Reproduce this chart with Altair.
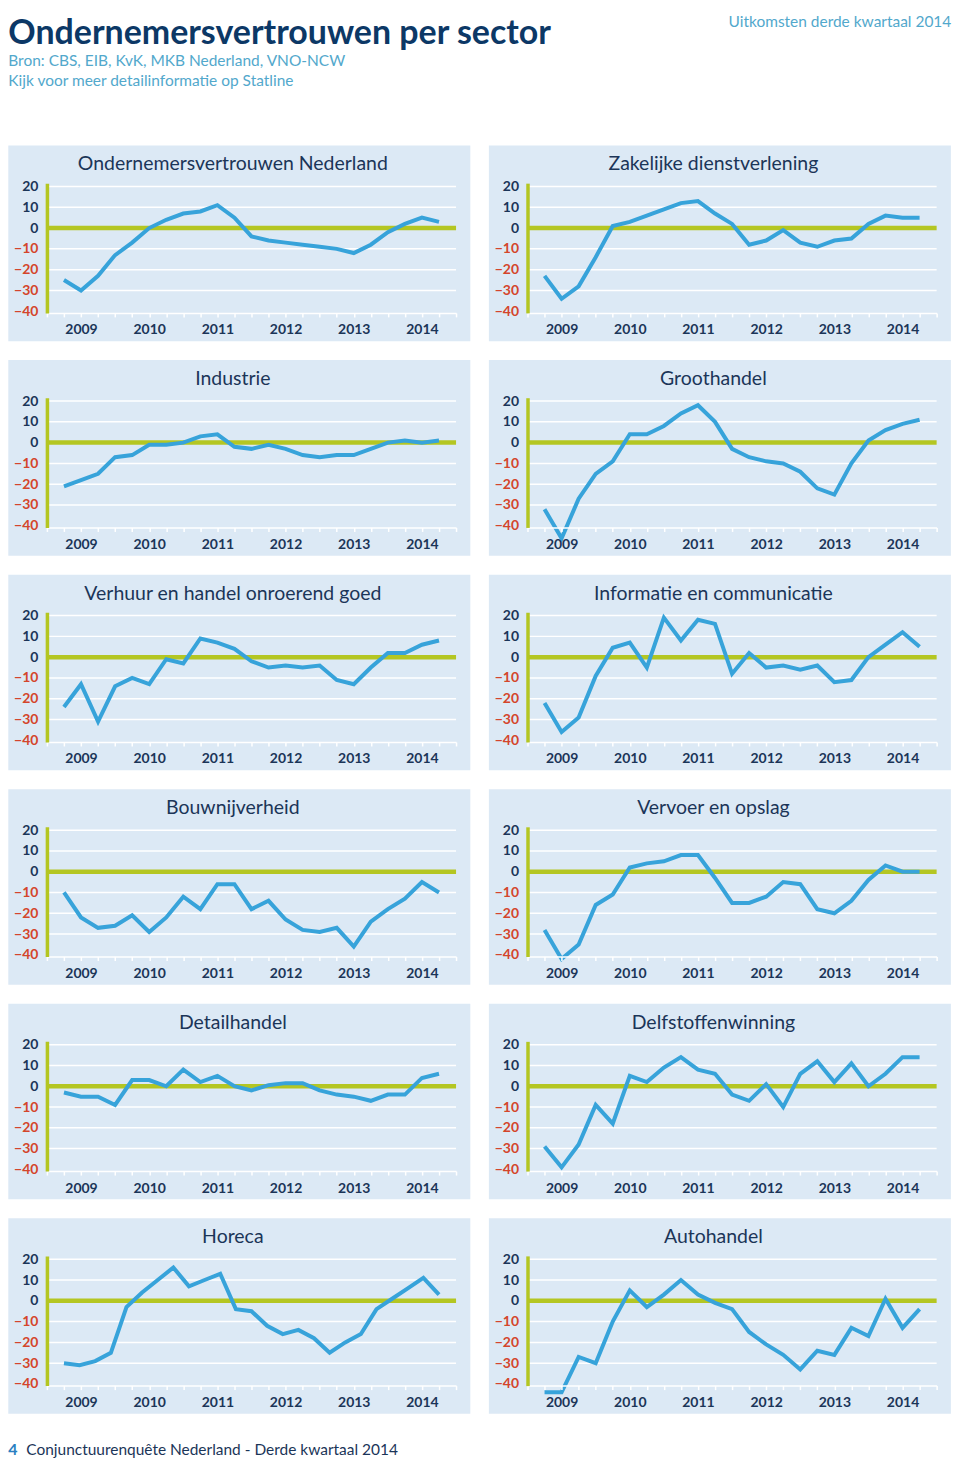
import altair as alt
import pandas as pd

# ---------------- text ----------------
MAIN_TITLE = "Ondernemersvertrouwen per sector"
SUB_LINE1 = "Bron: CBS, EIB, KvK, MKB Nederland, VNO-NCW"
SUB_LINE2 = "Kijk voor meer detailinformatie op Statline"
TOP_RIGHT = "Uitkomsten derde kwartaal 2014"
FOOT_NUM = "4"
FOOT_TEXT = "Conjunctuurenquête Nederland - Derde kwartaal 2014"

# ---------------- data ----------------
sectors = [
    "Ondernemersvertrouwen Nederland", "Zakelijke dienstverlening",
    "Industrie", "Groothandel",
    "Verhuur en handel onroerend goed", "Informatie en communicatie",
    "Bouwnijverheid", "Vervoer en opslag",
    "Detailhandel", "Delfstoffenwinning",
    "Horeca", "Autohandel",
]
nederland = [-25, -30, -23, -13, -7, 0, 4, 7, 8, 11, 5, -4, -6, -7, -8, -9, -10, -12, -8, -2, 2, 5, 3]
zakelijk = [-23, -34, -28, -14, 1, 3, 6, 9, 12, 13, 7, 2, -8, -6, -1, -7, -9, -6, -5, 2, 6, 5, 5]
industrie = [-21, -18, -15, -7, -6, -1, -1, 0, 3, 4, -2, -3, -1, -3, -6, -7, -6, -6, -3, 0, 1, 0, 1]
groothandel = [-32, -46, -27, -15, -9, 4, 4, 8, 14, 18, 10, -3, -7, -9, -10, -14, -22, -25, -10, 1, 6, 9, 11]
verhuur = [-24, -13, -31, -14, -10, -13, -1, -3, 9, 7, 4, -2, -5, -4, -5, -4, -11, -13, -5, 2, 2, 6, 8]
informatie = [-22, -36, -29, -9, 4.5, 7, -5, 19, 8, 18, 16, -8, 2, -5, -4, -6, -4, -12, -11, 0, 6, 12, 5]
bouw = [-10, -22, -27, -26, -21, -29, -22, -12, -18, -6, -6, -18, -14, -23, -28, -29, -27, -36, -24, -18, -13, -5, -10]
vervoer = [-28, -42, -35, -16, -11, 2, 4, 5, 8, 8, -3, -15, -15, -12, -5, -6, -18, -20, -14, -4, 3, 0, 0]
detail = [-3, -5, -5, -9, 3, 3, 0, 8, 2, 5, 0, -2, 0.5, 1.5, 1.5, -2, -4, -5, -7, -4, -4, 4, 6]
delf = [-29, -39, -28, -9, -18, 5, 2, 9, 14, 8, 6, -4, -7, 1, -10, 6, 12, 2, 11, 0, 6, 14, 14]
horeca = [-30, -31, -29, -25, -3, 4, 10, 16, 7, 10, 13, -4, -5, -12, -16, -14, -18, -25, -20, -16, -4, 1, 6, 11, 3]
auto = [-44, -44, -27, -30, -10, 5, -3, 3, 10, 3, -1, -4, -15, -21, -26, -33, -24, -26, -13, -17, 1, -13, -4]
series = [nederland, zakelijk, industrie, groothandel, verhuur, informatie,
          bouw, vervoer, detail, delf, horeca, auto]

year_labels = ["2009", "2010", "2011", "2012", "2013", "2014"]
year_pos = [1, 5, 9, 13, 17, 21]
y_ticks = [20, 10, 0, -10, -20, -30, -40]
grid_vals = [20, 10, -10, -20, -30]

# ---------------- style ----------------
BG = "#dce9f5"
NAVY = "#1b3558"
TITLE_NAVY = "#0c3866"
RED = "#d4452b"
BLUE = "#37a3da"
GREEN = "#b4c622"
TEAL = "#52a8cc"
FONT = "Lato"

PW, PH = 410, 130
XDOM = [-1, 23]
YDOM = [-40.8, 21.6]

one = pd.DataFrame({"k": [0]})
xscale = alt.Scale(domain=XDOM, nice=False, zero=False)
yscale = alt.Scale(domain=YDOM, nice=False, zero=False)

label_expr = "".join(f"datum.value == {p} ? '{y}' : " for p, y in zip(year_pos, year_labels)) + "''"

x_axis = alt.Axis(
    values=list(range(-1, 24)), labelExpr=label_expr, title=None, grid=False,
    domainColor="white", domainWidth=1.5, tickColor="white", tickWidth=1.5, tickSize=4,
    labelPadding=6, labelFont=FONT, labelFontSize=14, labelFontWeight="bold",
    labelColor=NAVY, labelOverlap=False, labelFlush=False, zindex=1,
)
y_axis = alt.Axis(
    values=y_ticks, title=None, grid=False, ticks=False,
    domainColor=GREEN, domainWidth=3.5, labelPadding=9,
    labelFont=FONT, labelFontSize=14, labelFontWeight="bold",
    labelColor={"condition": {"test": "datum.value < 0", "value": RED}, "value": NAVY},
    zindex=1,
)


def text_layer(txt, x, y, size, color, weight="normal", align="left"):
    return alt.Chart(pd.DataFrame({"t": [txt]})).mark_text(
        font=FONT, fontSize=size, fontWeight=weight, color=color,
        align=align, baseline="alphabetic"
    ).encode(text="t:N", x=alt.value(x), y=alt.value(y))


def panel(k):
    name = sectors[k]
    vals = series[k]
    n = len(vals)
    step = 22 / (n - 1)
    df = pd.DataFrame({"q": [i * step for i in range(n)], "v": vals})

    bg = alt.Chart(one).mark_rect(color=BG).encode(
        x=alt.value(-38.7), x2=alt.value(424.3), y=alt.value(-37.7), y2=alt.value(158.3)
    )
    grid = alt.Chart(pd.DataFrame({"g": grid_vals})).mark_rule(
        color="white", strokeWidth=1.5
    ).encode(y=alt.Y("g:Q", scale=yscale, axis=y_axis))
    zero = alt.Chart(pd.DataFrame({"z": [0]})).mark_rule(
        color=GREEN, strokeWidth=4.5
    ).encode(y=alt.Y("z:Q", scale=yscale, axis=y_axis))
    line = alt.Chart(df).mark_line(color=BLUE, strokeWidth=4).encode(
        x=alt.X("q:Q", scale=xscale, axis=x_axis),
        y=alt.Y("v:Q", scale=yscale, axis=y_axis),
    )
    title = text_layer(name, 186.3, -12.7, 19.5, NAVY, align="center")
    layers = [bg, grid, zero, line, title]

    if k == 0:
        anchor = alt.Chart(one).mark_rect(opacity=0).encode(
            x=alt.value(-38.7), x2=alt.value(0), y=alt.value(-173.7), y2=alt.value(-172.7)
        )
        layers += [
            anchor,
            text_layer(MAIN_TITLE, -38.7, -139.8, 34, TITLE_NAVY, weight="bold"),
            text_layer(SUB_LINE1, -38.7, -117.0, 15.5, TEAL),
            text_layer(SUB_LINE2, -38.7, -97.8, 15.5, TEAL),
        ]
    if k == 1:
        layers += [text_layer(TOP_RIGHT, 424.7, -156.0, 15.5, TEAL, align="right")]
    if k == 10:
        layers += [
            text_layer(FOOT_NUM, -38.7, 199.3, 16, "#2b7fc1", weight="bold"),
            text_layer(FOOT_TEXT, -20.7, 199.3, 15.5, NAVY),
        ]
    return alt.layer(*layers).properties(width=PW, height=PH)


chart = alt.concat(
    *[panel(k) for k in range(12)],
    columns=2, spacing={"row": 85, "column": 71.6}, bounds="flush",
).properties(padding=0).configure_view(stroke=None)

chart.save("out.html", embed_options={"renderer": "svg", "actions": False})
